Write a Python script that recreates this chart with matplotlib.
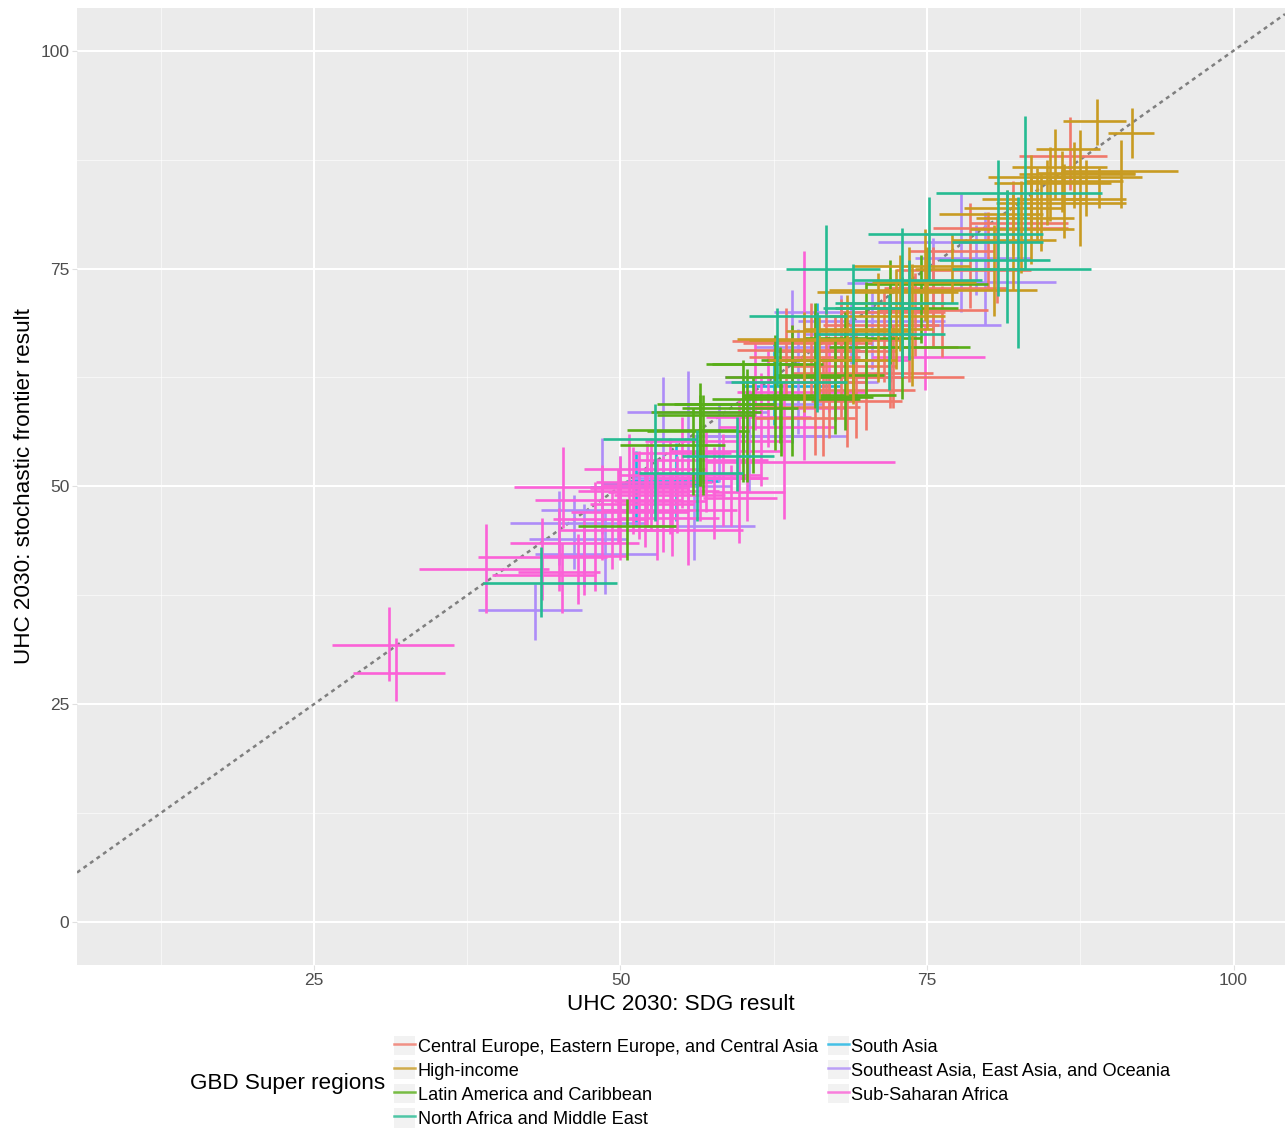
"""UHC 2030: SDG result vs stochastic frontier result, by GBD super region."""
import matplotlib
matplotlib.use("Agg")
import matplotlib.pyplot as plt
from matplotlib.legend_handler import HandlerTuple
from matplotlib.lines import Line2D
from matplotlib.patches import Patch

plt.rcParams["font.family"] = ["Liberation Sans", "DejaVu Sans"]

W, H = 1286, 1132

# each row: x low, x high, y of the horizontal bar, x of the vertical bar, y low, y high
SOUTH_ASIA = [
    (48.5, 56.5, 50.3, 52.5, 46.5, 54.0),
    (50.5, 58.0, 50.6, 54.5, 46.0, 55.0),
    (47.5, 55.0, 49.9, 51.3, 45.5, 54.0),
    (60.0, 68.0, 61.5, 64.0, 55.0, 68.0),
    (62.5, 70.0, 65.5, 66.0, 60.0, 71.0),
    (58.5, 66.5, 62.5, 62.5, 57.0, 67.0),
]
SE_ASIA = [
    (38.4, 46.9, 35.8, 43.0, 32.4, 38.8),
    (41.0, 52.0, 45.8, 45.0, 41.0, 49.5),
    (42.5, 50.5, 44.0, 47.0, 38.5, 48.0),
    (43.0, 53.0, 42.2, 48.7, 37.6, 47.0),
    (43.5, 52.5, 47.3, 46.2, 40.5, 49.0),
    (48.5, 59.0, 50.0, 48.5, 44.5, 55.5),
    (50.5, 62.0, 58.5, 53.5, 50.5, 62.5),
    (54.5, 66.5, 59.5, 55.5, 47.0, 63.2),
    (52.0, 61.0, 45.5, 56.0, 41.5, 49.0),
    (56.0, 68.5, 55.8, 60.5, 49.5, 61.0),
    (58.5, 71.0, 62.0, 64.5, 56.0, 68.0),
    (62.5, 72.0, 70.0, 64.0, 60.0, 72.5),
    (64.5, 76.5, 69.0, 72.0, 62.0, 74.0),
    (68.5, 78.0, 73.3, 75.5, 67.5, 78.5),
    (71.0, 81.0, 78.0, 77.8, 70.0, 83.5),
    (74.0, 83.5, 76.2, 79.7, 68.5, 81.5),
    (73.0, 85.5, 73.4, 79.0, 72.0, 80.0),
    (73.0, 81.0, 68.5, 68.8, 64.0, 71.0),
    (56.0, 66.7, 55.8, 58.0, 50.5, 59.5),
    (61.0, 70.0, 66.0, 68.0, 62.0, 72.0),
    (65.0, 74.0, 67.5, 70.5, 63.5, 72.5),
    (51.0, 58.0, 51.0, 50.0, 47.0, 53.5),
]
SSA = [
    (26.5, 36.4, 31.8, 31.1, 27.6, 36.2),
    (28.2, 35.7, 28.6, 31.7, 25.4, 32.6),
    (33.6, 44.2, 40.5, 39.0, 35.5, 45.7),
    (41.3, 49.5, 49.9, 45.3, 45.2, 54.5),
    (38.4, 48.9, 41.9, 43.6, 37.0, 46.4),
    (41.0, 51.5, 43.5, 45.0, 38.0, 47.5),
    (41.6, 48.3, 40.2, 46.5, 36.5, 44.5),
    (43.0, 55.0, 48.4, 47.9, 38.0, 50.5),
    (46.0, 55.5, 47.0, 48.5, 41.5, 52.5),
    (44.5, 52.0, 46.2, 50.0, 41.5, 53.5),
    (46.5, 58.0, 49.5, 51.0, 44.5, 54.5),
    (47.5, 56.0, 48.0, 52.0, 43.0, 52.0),
    (48.0, 57.5, 50.5, 52.5, 45.0, 55.5),
    (48.5, 59.5, 47.3, 53.0, 41.5, 53.0),
    (50.0, 61.5, 51.3, 54.0, 44.5, 55.5),
    (49.5, 58.5, 49.0, 54.6, 44.7, 53.5),
    (50.5, 60.0, 45.0, 55.5, 41.0, 53.0),
    (51.0, 62.0, 53.0, 56.5, 46.0, 57.0),
    (52.0, 64.0, 55.2, 57.6, 43.9, 54.5),
    (52.5, 62.0, 51.0, 58.4, 45.5, 56.0),
    (54.0, 63.0, 54.0, 59.7, 43.5, 60.0),
    (56.7, 62.8, 48.7, 59.0, 45.5, 52.5),
    (57.5, 63.4, 49.4, 60.3, 46.0, 53.0),
    (57.0, 72.4, 52.8, 63.3, 46.2, 62.0),
    (58.0, 67.5, 56.8, 61.5, 50.0, 63.0),
    (60.0, 68.5, 59.0, 65.0, 53.0, 77.0),
    (59.5, 70.0, 60.8, 61.0, 56.5, 66.5),
    (63.0, 73.5, 64.5, 65.0, 57.5, 69.5),
    (70.5, 79.7, 64.8, 74.8, 61.0, 68.5),
    (45.0, 54.5, 45.0, 49.3, 40.5, 49.5),
    (47.0, 57.0, 52.0, 50.7, 47.0, 56.0),
    (39.5, 48.0, 39.8, 45.2, 35.5, 43.5),
    (43.5, 50.5, 42.0, 47.0, 37.5, 46.0),
    (47.5, 55.5, 49.8, 51.5, 44.0, 54.0),
    (48.5, 56.0, 50.2, 52.2, 45.5, 55.0),
    (49.0, 55.5, 49.4, 53.5, 42.5, 53.5),
    (49.5, 57.0, 48.3, 49.8, 43.5, 52.0),
    (50.0, 58.0, 46.4, 54.2, 42.0, 51.5),
    (51.0, 59.0, 53.8, 55.0, 47.5, 58.0),
    (55.0, 61.5, 51.0, 57.0, 47.0, 56.5),
    (57.0, 65.5, 58.0, 62.0, 54.5, 65.5),
    (58.5, 68.5, 62.5, 64.0, 58.0, 68.5),
    (62.5, 73.2, 62.5, 67.0, 58.5, 67.0),
]
CENTRAL_EUROPE = [
    (60.0, 70.5, 66.5, 65.5, 60.5, 71.0),
    (63.0, 73.0, 66.8, 66.8, 60.0, 72.5),
    (62.5, 72.5, 65.5, 68.0, 58.0, 71.5),
    (64.0, 75.5, 63.0, 70.0, 56.5, 68.5),
    (65.5, 73.0, 59.8, 66.5, 53.5, 65.0),
    (66.0, 74.0, 61.0, 69.2, 55.5, 68.0),
    (67.0, 78.0, 62.5, 72.0, 59.0, 70.0),
    (70.0, 77.5, 66.0, 73.5, 62.0, 72.0),
    (66.5, 76.0, 68.5, 71.5, 62.0, 72.5),
    (71.0, 80.0, 70.2, 76.2, 64.8, 73.0),
    (71.5, 81.5, 72.8, 75.5, 66.0, 77.5),
    (72.5, 83.5, 74.8, 78.5, 70.5, 82.5),
    (73.5, 80.5, 77.0, 80.0, 72.5, 81.5),
    (75.5, 86.5, 79.6, 80.7, 71.0, 81.0),
    (82.5, 89.7, 87.9, 86.7, 84.0, 92.4),
    (78.5, 86.5, 80.2, 82.0, 76.5, 85.0),
    (62.0, 70.0, 62.0, 67.5, 57.5, 66.5),
    (59.1, 69.5, 66.7, 63.5, 60.5, 70.5),
    (59.5, 69.5, 65.7, 65.9, 53.6, 70.0),
    (60.5, 69.5, 64.8, 67.5, 58.5, 69.5),
    (61.0, 69.5, 59.1, 67.0, 55.5, 62.5),
    (61.0, 69.1, 57.8, 68.5, 54.5, 61.0),
    (64.0, 72.5, 63.8, 72.2, 59.0, 68.5),
    (68.0, 76.5, 70.0, 74.0, 65.0, 74.5),
]
LATAM = [
    (46.5, 54.5, 45.5, 50.5, 41.5, 48.5),
    (50.0, 58.5, 54.8, 55.9, 49.0, 59.0),
    (50.5, 59.5, 56.5, 56.7, 49.0, 60.5),
    (52.5, 61.5, 58.5, 56.5, 50.0, 60.5),
    (53.0, 62.5, 59.5, 60.0, 50.5, 62.0),
    (57.0, 65.0, 64.0, 60.3, 50.5, 63.5),
    (55.0, 64.5, 59.0, 60.8, 51.5, 62.5),
    (57.5, 69.5, 60.0, 64.0, 53.5, 68.5),
    (58.5, 68.0, 62.5, 63.0, 55.0, 66.0),
    (60.0, 72.5, 60.5, 67.5, 56.0, 67.0),
    (61.5, 70.0, 64.5, 69.0, 60.5, 69.5),
    (65.0, 74.5, 67.0, 70.0, 60.5, 73.5),
    (67.5, 77.5, 70.5, 72.0, 64.0, 76.0),
    (67.0, 78.5, 66.0, 73.0, 60.0, 74.0),
    (70.0, 80.0, 73.2, 74.5, 66.5, 76.5),
    (52.2, 60.5, 56.4, 56.5, 50.0, 61.9),
    (53.0, 61.0, 58.2, 60.0, 54.2, 64.5),
    (54.4, 62.5, 59.4, 62.6, 54.2, 67.4),
    (57.5, 66.5, 64.0, 63.1, 53.5, 62.0),
    (60.0, 70.6, 60.2, 68.3, 56.5, 70.0),
    (62.5, 71.5, 62.8, 65.9, 59.0, 71.0),
]
HIGH_INCOME = [
    (60.5, 70.5, 66.8, 65.0, 58.5, 70.0),
    (62.0, 72.5, 64.5, 69.0, 59.5, 70.0),
    (65.0, 75.5, 68.0, 71.0, 62.0, 74.5),
    (67.0, 77.0, 72.5, 72.5, 63.5, 75.0),
    (68.0, 76.5, 71.0, 75.0, 68.0, 77.5),
    (70.5, 79.0, 73.5, 73.5, 67.5, 77.5),
    (69.0, 78.5, 75.3, 74.8, 69.0, 79.5),
    (71.5, 84.0, 72.5, 80.5, 69.5, 80.0),
    (77.0, 85.5, 78.3, 82.0, 72.5, 83.5),
    (76.0, 84.5, 81.3, 81.5, 76.0, 84.0),
    (78.5, 87.0, 79.5, 83.5, 75.5, 85.5),
    (79.0, 87.0, 80.8, 84.3, 77.0, 86.0),
    (79.5, 88.0, 83.0, 84.0, 78.0, 86.5),
    (80.5, 90.0, 84.8, 84.8, 80.0, 87.5),
    (80.0, 89.0, 85.5, 85.0, 80.5, 89.0),
    (80.6, 91.2, 82.5, 86.2, 78.5, 87.0),
    (81.9, 89.7, 86.7, 83.5, 80.0, 88.0),
    (83.0, 91.0, 85.0, 86.0, 81.5, 88.5),
    (83.5, 92.5, 85.5, 87.0, 82.0, 89.5),
    (83.9, 89.1, 88.7, 85.4, 83.0, 91.0),
    (84.0, 92.0, 86.0, 88.0, 81.0, 87.5),
    (85.9, 95.5, 86.2, 90.8, 82.0, 89.8),
    (82.5, 92.0, 85.8, 87.5, 77.6, 90.9),
    (86.0, 91.2, 83.0, 89.0, 82.0, 86.5),
    (86.1, 91.2, 91.9, 88.9, 89.2, 94.4),
    (89.8, 93.5, 90.6, 91.7, 87.7, 93.4),
    (78.0, 86.0, 82.0, 82.7, 74.5, 85.0),
    (59.5, 70.0, 66.9, 66.2, 60.0, 69.5),
    (63.5, 73.5, 67.8, 68.5, 60.5, 72.0),
    (67.0, 76.5, 69.5, 72.8, 65.5, 76.5),
    (66.0, 77.5, 72.3, 73.8, 61.5, 75.5),
    (74.0, 83.0, 75.0, 77.0, 71.0, 79.0),
]
NORTH_AFRICA = [
    (38.8, 49.7, 38.9, 43.5, 35.0, 43.0),
    (48.6, 56.2, 55.4, 52.8, 46.0, 59.4),
    (51.5, 60.0, 51.5, 56.2, 46.0, 56.5),
    (55.0, 62.5, 53.5, 59.5, 49.5, 58.0),
    (59.0, 68.5, 62.0, 66.0, 58.5, 70.0),
    (60.5, 68.5, 69.5, 62.8, 61.5, 70.5),
    (63.5, 71.2, 75.0, 66.8, 69.8, 80.0),
    (66.5, 74.5, 70.5, 69.0, 64.0, 75.5),
    (66.0, 76.5, 67.5, 71.9, 61.0, 72.0),
    (67.5, 77.5, 71.0, 73.0, 62.5, 79.6),
    (70.2, 84.5, 79.0, 75.2, 73.7, 83.2),
    (69.0, 79.5, 73.7, 73.5, 64.5, 76.0),
    (75.7, 89.3, 83.7, 83.0, 75.0, 92.5),
    (77.0, 88.4, 75.0, 82.4, 65.9, 83.2),
    (77.0, 84.5, 78.0, 81.5, 68.8, 84.0),
    (76.0, 85.0, 76.0, 80.8, 71.8, 87.5),
]

GROUPS = [
    ("South Asia", "#19B4E3", SOUTH_ASIA),
    ("Southeast Asia, East Asia, and Oceania", "#AE8CF8", SE_ASIA),
    ("Sub-Saharan Africa", "#FB61D7", SSA),
    ("Central Europe, Eastern Europe, and Central Asia", "#F0786A", CENTRAL_EUROPE),
    ("Latin America and Caribbean", "#58AE18", LATAM),
    ("High-income", "#C89B22", HIGH_INCOME),
    ("North Africa and Middle East", "#25BB92", NORTH_AFRICA),
]
LEGEND_ORDER = [3, 5, 4, 6, 0, 1, 2]

fig = plt.figure(figsize=(W / 100, H / 100), dpi=100)
ax = fig.add_axes([77 / W, 1 - 965 / H, (1285 - 77) / W, (965 - 8) / H])
ax.set_facecolor("#EBEBEB")
for s in ax.spines.values():
    s.set_visible(False)

ax.set_xlim(5.67, 104.2)
ax.set_ylim(-4.94, 104.9)
ax.set_xticks([25, 50, 75, 100])
ax.set_yticks([0, 25, 50, 75, 100])
ax.set_xticks([12.5, 37.5, 62.5, 87.5], minor=True)
ax.set_yticks([12.5, 37.5, 62.5, 87.5], minor=True)
ax.grid(which="major", color="white", lw=1.5)
ax.grid(which="minor", color="white", lw=0.8, alpha=0.6)
ax.set_axisbelow(True)
ax.tick_params(which="major", color="#E0E0E0", length=3.5, labelsize=12.5,
               labelcolor="#4D4D4D", pad=2)
ax.tick_params(which="minor", length=0)

ax.axline((50, 50), slope=1, color="#7F7F7F", lw=1.8, ls=(0, (1.6, 1.6)), zorder=1.5)

for name, color, rows in GROUPS:
    for xlo, xhi, yh, xv, ylo, yhi in rows:
        ax.plot([xlo, xhi], [yh, yh], color=color, lw=1.9,
                solid_capstyle="butt", zorder=2)
        ax.plot([xv, xv], [ylo, yhi], color=color, lw=1.9,
                solid_capstyle="butt", zorder=2)

fig.text(681 / W, 1 - 1004 / H, "UHC 2030: SDG result", ha="center", va="center", fontsize=16.2)
fig.text(25 / W, 1 - 486 / H, "UHC 2030: stochastic frontier result", rotation=90,
         ha="center", va="center", fontsize=16.2)
fig.text(190 / W, 1 - 1083 / H, "GBD Super regions", ha="left", va="center", fontsize=16.2)

handles = []
labels = []
for i in LEGEND_ORDER:
    name, color, _ = GROUPS[i]
    handles.append((Patch(facecolor="#F2F2F2", edgecolor="none"),
                    Line2D([], [], color=color, lw=1.8, alpha=0.8)))
    labels.append(name)
fig.legend(handles, labels, ncols=2, frameon=False, fontsize=13.1,
           handler_map={tuple: HandlerTuple(ndivide=1, pad=0)},
           loc="upper left", bbox_to_anchor=(394 / W, 1 - 1036 / H),
           borderaxespad=0, borderpad=0, handlelength=1.15, handleheight=1.25,
           handletextpad=0.15, labelspacing=0.24, columnspacing=0.55)

fig.savefig("out.png", dpi=100)
